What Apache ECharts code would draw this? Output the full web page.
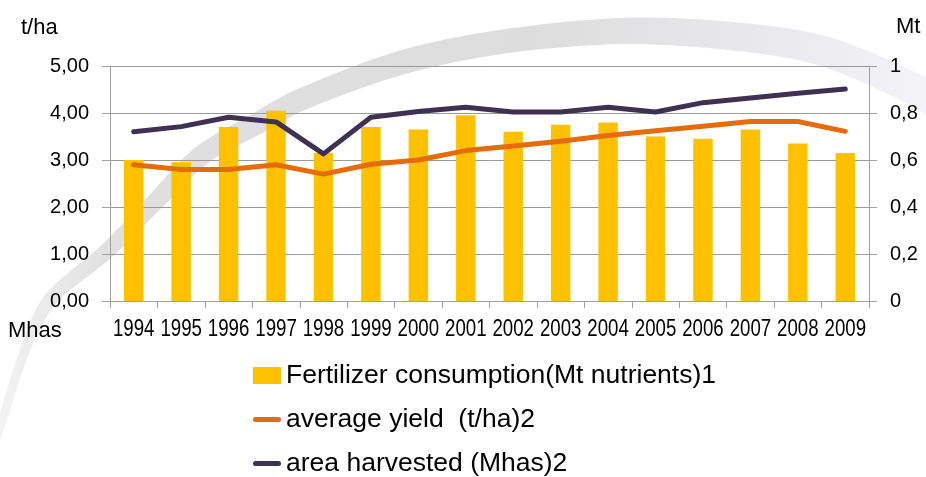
<!DOCTYPE html>
<html><head><meta charset="utf-8">
<script src="https://cdn.jsdelivr.net/npm/echarts@6/dist/echarts.min.js"></script>
<style>html,body{margin:0;padding:0;background:#fff}#c{width:926px;height:477px}</style>
</head><body><div id="c"></div>
<script>
const years = ['1994','1995','1996','1997','1998','1999','2000','2001','2002','2003','2004','2005','2006','2007','2008','2009'];
const fertilizer = [3.00, 2.95, 3.70, 4.05, 3.15, 3.70, 3.65, 3.95, 3.60, 3.75, 3.80, 3.50, 3.45, 3.65, 3.35, 3.15];
const avgYield = [2.90, 2.80, 2.80, 2.90, 2.70, 2.91, 3.00, 3.20, 3.30, 3.40, 3.52, 3.62, 3.72, 3.82, 3.82, 3.61];
const areaHarvested = [3.60, 3.71, 3.91, 3.81, 3.13, 3.91, 4.03, 4.12, 4.02, 4.02, 4.12, 4.02, 4.22, 4.32, 4.42, 4.51];
const leftTicks = ['0,00','1,00','2,00','3,00','4,00','5,00'];
const rightTicks = ['0','0,2','0,4','0,6','0,8','1'];
const seriesNames = ['Fertilizer consumption(Mt nutrients)1', 'average yield  (t/ha)2', 'area harvested (Mhas)2'];

// decorative background swoosh (not data)
const swoosh = [[-5,445],[25,350],[50,300],[108,250],[157,200],[202,155],[260,122],[300,100],[400,63],[500,42],[620,31],[720,35],[820,50],[920,92],[965,122]];
const swooshHalf = [3,5,7,8,9,10,11,11,12,12,13,14,15,16,16];
function swooshPolygon(){
  const up = [], down = [];
  for (let i = 0; i < swoosh.length; i++) {
    const a = swoosh[Math.max(0, i-1)], b = swoosh[Math.min(swoosh.length-1, i+1)];
    let tx = b[0]-a[0], ty = b[1]-a[1];
    const L = Math.hypot(tx, ty); tx /= L; ty /= L;
    const nx = -ty, ny = tx, h = swooshHalf[i];
    up.push([swoosh[i][0]+nx*h, swoosh[i][1]+ny*h]);
    down.push([swoosh[i][0]-nx*h, swoosh[i][1]-ny*h]);
  }
  return up.concat(down.reverse());
}

const FONT = '"Liberation Sans", Arial, sans-serif';
const axisGray = '#a0a0a0';
const lineIcon = 'path://M2.5,0 L25.5,0 A2.5,2.5 0 0 1 25.5,5 L2.5,5 A2.5,2.5 0 0 1 2.5,0 Z';

// year labels in the reference use a tall condensed face: draw them as text squeezed horizontally
const yearFontSize = 23.5;
const yearTargetWidth = 41.5;
function textWidth(t, font){ const c = document.createElement('canvas').getContext('2d'); c.font = font; return c.measureText(t).width; }

const chart = echarts.init(document.getElementById('c'), null, {renderer: 'canvas'});
chart.setOption({
  animation: false,
  backgroundColor: '#fff',
  textStyle: {fontFamily: FONT},
  grid: {left: 110, right: 57, top: 66, bottom: 176},
  graphic: [
    {id: 'swoosh', type: 'polygon', z: -10, silent: true,
     shape: {points: swooshPolygon(), smooth: 0.3},
     style: {fill: {type: 'linear', x: 0, y: 0, x2: 1, y2: 0, colorStops: [
       {offset: 0, color: '#f4f4f4'}, {offset: 0.12, color: '#e0e0e0'},
       {offset: 0.55, color: '#dddddd'}, {offset: 0.8, color: '#eaeaee'}, {offset: 1, color: '#f7f7fb'}]}}},
    {id: 'tha', type: 'text', left: 21, top: 17, style: {text: 't/ha', font: '22px ' + FONT, fill: '#000'}},
    {id: 'mt', type: 'text', left: 896, top: 16, style: {text: 'Mt', font: '22px ' + FONT, fill: '#000'}},
    {id: 'mhas', type: 'text', left: 8, top: 320, style: {text: 'Mhas', font: '22px ' + FONT, fill: '#000'}}
  ],
  legend: {
    orient: 'vertical', left: 253, top: 362, padding: 0, itemWidth: 28, itemHeight: 17, itemGap: 17,
    symbolKeepAspect: true,
    textStyle: {fontSize: 26.5, color: '#000', lineHeight: 26, fontFamily: FONT},
    data: [{name: seriesNames[0], icon: 'rect'}, {name: seriesNames[1], icon: lineIcon}, {name: seriesNames[2], icon: lineIcon}]
  },
  xAxis: {
    type: 'category', data: years, boundaryGap: true,
    axisLine: {lineStyle: {color: axisGray, width: 1}},
    axisTick: {show: true, length: 7, lineStyle: {color: axisGray}},
    axisLabel: {show: false}
  },
  yAxis: [
    {type: 'value', min: 0, max: 5, interval: 1,
     axisLine: {show: true, lineStyle: {color: axisGray}},
     axisTick: {show: true, length: 8, lineStyle: {color: axisGray}},
     axisLabel: {formatter: v => leftTicks[Math.round(v)], fontSize: 20, color: '#000', margin: 21},
     splitLine: {show: true, lineStyle: {color: '#9a9a9a', width: 1}}},
    {type: 'value', min: 0, max: 1, interval: 0.2, position: 'right',
     axisLine: {show: true, lineStyle: {color: axisGray}},
     axisTick: {show: true, length: 8, lineStyle: {color: axisGray}},
     axisLabel: {formatter: v => rightTicks[Math.round(v * 5)], fontSize: 20, color: '#000', margin: 21},
     splitLine: {show: false}}
  ],
  series: [
    {name: seriesNames[0], type: 'bar', data: fertilizer, barWidth: '41%', itemStyle: {color: '#FFC000'}, z: 2},
    {name: seriesNames[1], type: 'line', data: avgYield, symbol: 'none', itemStyle: {color: '#E46C0A'},
     lineStyle: {color: '#E46C0A', width: 5, cap: 'round', join: 'round'}, z: 3},
    {name: seriesNames[2], type: 'line', data: areaHarvested, symbol: 'none', itemStyle: {color: '#3F3151'},
     lineStyle: {color: '#3F3151', width: 5, cap: 'round', join: 'round'}, z: 4}
  ]
});

// category labels placed through the x axis scale
const yFont = yearFontSize + 'px ' + FONT;
const axisY = chart.convertToPixel({yAxisIndex: 0}, 0);
const yearLabels = years.map((yr, i) => {
  const x = chart.convertToPixel({xAxisIndex: 0}, i);
  const sx = yearTargetWidth / textWidth(yr, yFont);
  return {id: 'yr' + i, type: 'text', x: x, y: axisY + 29, scaleX: sx, silent: true,
    style: {text: yr, font: yFont, fill: '#000', align: 'center', verticalAlign: 'middle'}};
});
chart.setOption({graphic: yearLabels});
</script></body></html>
